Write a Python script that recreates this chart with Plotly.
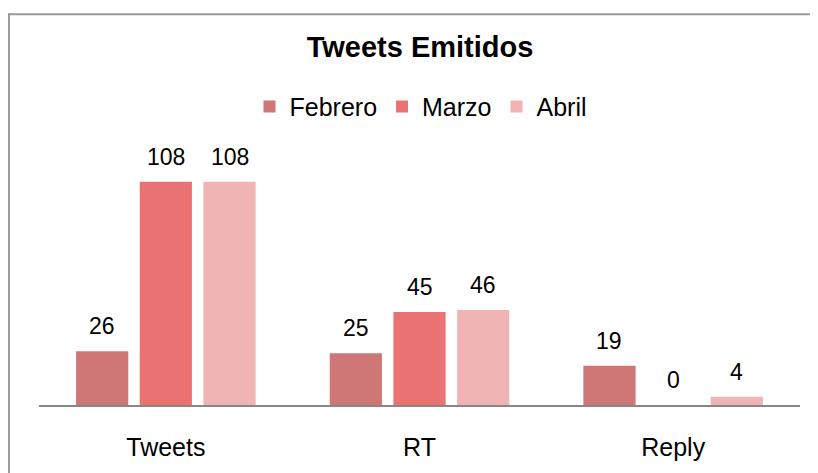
import plotly.graph_objects as go

# data
categories = ["Tweets", "RT", "Reply"]
series_names = ["Febrero", "Marzo", "Abril"]
febrero = [26, 25, 19]
marzo = [108, 45, 0]
abril = [108, 46, 4]
series_values = [febrero, marzo, abril]

colors = ["#cf7777", "#ea7272", "#f1b4b4"]

# page has an 8px body margin, so the figure is a bit smaller than the window
W, H = 810, 465
L, R, T, B = 31, 18, 149, 59
BARGAP = 0.247
FONT = "Liberation Sans, Arial, sans-serif"

fig = go.Figure()

for name, vals, col in zip(series_names, series_values, colors):
    fig.add_trace(go.Bar(
        name=name, x=categories, y=vals,
        marker=dict(color=col, line=dict(width=0)),
    ))

# value labels above the bars
plot_w = W - L - R
plot_h = H - T - B
slot = plot_w / len(categories) * (1 - BARGAP) / len(series_names)
for i, vals in enumerate(series_values):
    for cat, v in zip(categories, vals):
        fig.add_annotation(
            x=cat, y=v, text=str(v), showarrow=False,
            xshift=(i - 1) * slot, yshift=25, yanchor="middle",
            font=dict(family=FONT, size=23, color="#000000"),
        )

# outer frame (runs off the right and bottom edges)
fig.add_shape(
    type="rect", xref="paper", yref="paper",
    x0=(1 - L) / plot_w, x1=(W + 20 - L) / plot_w,
    y0=-(B + 20) / plot_h, y1=1 + (T - 1) / plot_h,
    line=dict(color="#9a9a9a", width=2), fillcolor="rgba(0,0,0,0)",
    layer="below",
)

fig.update_layout(
    width=W, height=H,
    margin=dict(l=L, r=R, t=T, b=B),
    paper_bgcolor="white", plot_bgcolor="white",
    barmode="group", bargap=BARGAP, bargroupgap=0.18,
    title=dict(
        text="<b>Tweets Emitidos</b>", x=412 / W, xref="container",
        y=1 - 39 / H, yref="container", xanchor="center", yanchor="middle",
        font=dict(family=FONT, size=29, color="#000000"),
    ),
    legend=dict(
        orientation="h", x=(413 - L) / plot_w, y=1 + (T - 97) / plot_h,
        xanchor="center", yanchor="middle",
        font=dict(family=FONT, size=25, color="#000000"),
        itemclick=False, itemdoubleclick=False,
    ),
    xaxis=dict(
        showgrid=False, zeroline=False, showline=True,
        linecolor="#878787", linewidth=2, ticks="",
        tickfont=dict(family=FONT, size=25, color="#000000"),
        ticklabelstandoff=19,
    ),
    yaxis=dict(
        range=[0, 120], visible=False, showgrid=False, zeroline=False,
    ),
)

fig.write_html("out.html")
